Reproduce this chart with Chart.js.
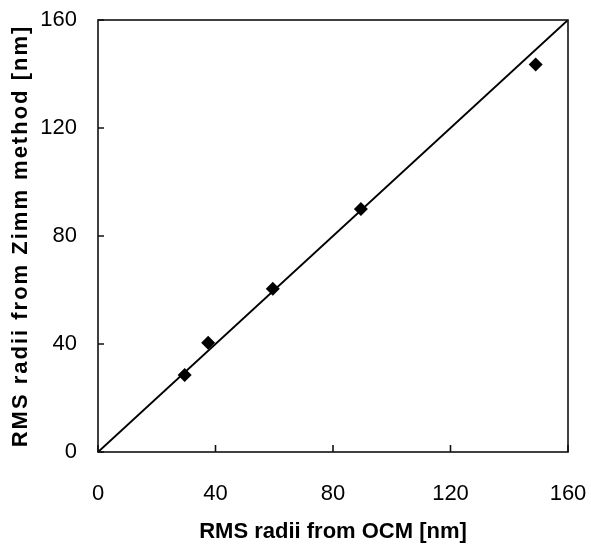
<!DOCTYPE html>
<html><head><meta charset="utf-8">
<script src="https://cdn.jsdelivr.net/npm/chart.js@4"></script>
<style>html,body{margin:0;padding:0;background:#fff}</style>
</head><body>
<canvas id="c" width="591" height="546" style="display:block;width:591px;height:546px"></canvas>
<script>
const ocmRadii = [29.5, 37.5, 59.5, 89.5, 149];
const zimmRadii = [28.5, 40.5, 60.5, 90, 143.5];
const lineX = [0, 160];
const lineY = [0, 160];
const tickValues = [0, 40, 80, 120, 160];
const xTitle = 'RMS radii from OCM [nm]';
const yTitle = 'RMS radii from Zimm method [nm]';

const FONT = "'Liberation Sans', Arial, Helvetica, sans-serif";

const frameTicks = {
  id: 'frameTicks',
  afterDatasetsDraw(chart) {
    const {ctx, chartArea: a, scales: {x, y}} = chart;
    ctx.save();
    ctx.strokeStyle = '#111';
    ctx.lineWidth = 1.6;
    ctx.strokeRect(a.left, a.top, a.right - a.left, a.bottom - a.top);
    ctx.beginPath();
    x.ticks.forEach((t, i) => {
      const px = x.getPixelForTick(i);
      ctx.moveTo(px, a.bottom); ctx.lineTo(px, a.bottom - 7);
    });
    y.ticks.forEach((t, i) => {
      const py = y.getPixelForTick(i);
      ctx.moveTo(a.left, py); ctx.lineTo(a.left + 6, py);
    });
    ctx.stroke();
    ctx.restore();
    // wider letter spacing for the y title layer, drawn after the datasets
    ctx.letterSpacing = '2px';
  },
  afterDraw(chart) {
    chart.ctx.letterSpacing = '0px';
  }
};

function noPad(s) { s.paddingTop = 0; s.paddingBottom = 0; s.paddingLeft = 0; s.paddingRight = 0; }

new Chart(document.getElementById('c'), {
  type: 'scatter',
  data: {
    datasets: [
      {
        data: ocmRadii.map((v, i) => ({x: v, y: zimmRadii[i]})),
        pointStyle: 'rectRot',
        pointRadius: 7,
        backgroundColor: '#000',
        borderColor: '#000',
        borderWidth: 0,
        showLine: false
      },
      {
        data: lineX.map((v, i) => ({x: v, y: lineY[i]})),
        showLine: true,
        borderColor: '#000',
        borderWidth: 2,
        pointRadius: 0
      }
    ]
  },
  options: {
    responsive: false,
    animation: false,
    layout: {padding: {top: 20, right: 23, bottom: 0, left: 0}},
    plugins: {legend: {display: false}, tooltip: {enabled: false}},
    scales: {
      x: {
        type: 'linear', min: 0, max: 160,
        afterBuildTicks(s) { s.ticks = tickValues.map(v => ({value: v})); },
        afterFit(s) { s.height = 94; noPad(s); },
        grid: {display: false, drawTicks: false, tickLength: 0},
        border: {display: false},
        ticks: {color: '#000', font: {family: FONT, size: 22}, padding: 29, maxRotation: 0},
        title: {display: true, text: xTitle, color: '#000', font: {family: FONT, size: 22, weight: 'bold', lineHeight: 1}, padding: {top: 0, bottom: 3}}
      },
      y: {
        type: 'linear', min: 0, max: 160,
        afterBuildTicks(s) { s.ticks = tickValues.map(v => ({value: v})); },
        afterFit(s) { s.width = 66; noPad(s); },
        grid: {display: false, drawTicks: false, tickLength: 0},
        border: {display: false},
        ticks: {color: '#000', font: {family: FONT, size: 22}, padding: 21},
        title: {display: false}
      },
      yTitleAxis: {
        type: 'linear', position: 'left', weight: 1, min: 0, max: 160,
        afterFit(s) { s.width = 32; noPad(s); },
        grid: {display: false, drawTicks: false, tickLength: 0, z: 1},
        border: {display: false, z: 1},
        ticks: {display: false, z: 1},
        title: {display: true, text: yTitle, color: '#000', font: {family: FONT, size: 22, weight: 'bold', lineHeight: 1}, padding: {top: 10, bottom: 0}}
      }
    }
  },
  plugins: [frameTicks]
});
</script>
</body></html>
